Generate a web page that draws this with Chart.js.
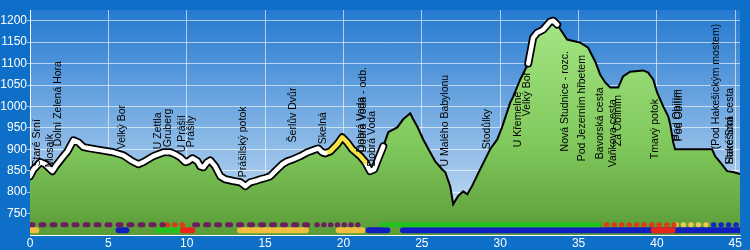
<!DOCTYPE html>
<html>
<head>
<meta charset="utf-8">
<script src="https://cdn.jsdelivr.net/npm/chart.js@4"></script>
<style>
  html, body { margin: 0; padding: 0; background: #0d6fc8; }
</style>
</head>
<body>
<canvas id="profile" width="750" height="250"></canvas>
<script>
// elevation profile: distance (km) and altitude (m)
const km = [0, 0.22, 0.66, 0.98, 1.43, 1.62, 2.07, 2.39, 2.77, 3.09, 3.41, 3.85, 4.49, 5.32, 5.96, 6.53, 6.91, 7.23, 7.87, 8.51,
  8.95, 9.27, 9.59, 9.91, 10.1, 10.36, 10.68, 10.87, 11.06, 11.31, 11.5, 11.82, 12.14, 12.46, 12.97, 13.42, 13.74, 14.05, 14.37, 14.69,
  15.01, 15.33, 15.65, 16.1, 16.42, 16.8, 17.25, 17.7, 18.07, 18.39, 18.65, 18.84, 19.16, 19.61, 19.92, 20.24, 20.56, 21.07, 21.39, 21.7,
  21.96, 22.21, 22.54, 22.86, 23.43, 23.81, 24.26, 24.45, 24.71, 25.09, 25.53, 25.85, 26.3, 26.49, 26.81, 27.0, 27.32, 27.64, 27.9, 28.2,
  28.72, 29.36, 29.81, 30.13, 30.64, 30.83, 31.28, 31.6, 31.79, 32.1, 32.36, 32.74, 33.19, 33.38, 33.64, 34.27, 35.1, 35.61, 36.06, 36.38,
  36.7, 37.02, 37.53, 37.84, 38.29, 39.12, 39.44, 39.76, 40.01, 40.4, 40.72, 40.85, 41.04, 41.16, 43.52, 43.71, 44.03, 44.48, 44.86, 45.3]
const altitude = [837, 853, 870, 865, 849, 860, 881, 895, 921, 916, 905, 902, 898, 893, 886, 872, 865, 870, 884, 893,
  893, 888, 881, 870, 872, 879, 872, 860, 858, 870, 874, 860, 837, 830, 826, 823, 814, 823, 826, 830,
  833, 837, 849, 865, 872, 877, 884, 893, 898, 902, 893, 891, 895, 912, 928, 916, 900, 884, 870, 849,
  853, 877, 907, 940, 951, 970, 984, 970, 953, 923, 893, 872, 853, 847, 814, 772, 791, 802, 795, 814,
  853, 900, 923, 953, 1009, 1023, 1063, 1086, 1100, 1160, 1172, 1179, 1198, 1200, 1191, 1156, 1149, 1137, 1105, 1074,
  1056, 1044, 1044, 1070, 1081, 1084, 1079, 1063, 1033, 1000, 977, 958, 916, 900, 900, 884, 870, 849, 847, 842]

// highlighted parts of the route
const hiFrom = [0, 18.84, 21.39, 31.79]
const hiTo = [18.84, 21.39, 22.54, 33.64]
const hiKind = ['white', 'yellow', 'white', 'white']

// waypoints: name, km, altitude where the label starts
const wpName = ['Staré Srní', 'Mosaik', 'Dolní Zelená Hora', 'Velký Bor', 'U Zettla', 'Gruberg', 'U Prášil', 'Prášily',
  'Prášilský potok', 'Šerlův Dvůr', 'Skelná', 'Dobrá Voda - odb.', 'Dobrá Voda', 'Dobrá Voda', 'U Malého Babylonu', 'Stodůlky',
  'U Křemelné', 'Velký Bor', 'Nová Studnice - rozc.', 'Pod Jezerním hřbetem', 'Bavorská cesta', 'Vaňkova cesta', 'Za Obilním',
  'Tmavý potok', 'Pod Obilím', 'Pod Obilím', '(Pod Hakešickým mostem)', 'Staré Srní', 'Hakešická cesta']
const wpKm = [0.47, 1.3, 1.81, 5.9, 8.2, 8.84, 9.72, 10.29,
  13.6, 16.8, 18.7, 21.26, 21.15, 21.84, 26.5, 29.17,
  31.15, 31.7, 34.15, 35.2, 36.4, 37.2, 37.5,
  39.9, 41.3, 41.4, 43.8, 44.65, 44.7]
const wpAlt = [860, 858, 907, 900, 900, 905, 893, 905,
  835, 916, 912, 893, 893, 860, 860, 900,
  905, 977, 895, 872, 877, 858, 907,
  877, 919, 919, 900, 865, 865]

// trail markings under the profile: row, from km, to km, kind
const trRow = [1, 1, 1, 1, 1, 1, 1, 1,
  2, 2, 2, 2, 2, 2, 2, 2, 2]
const trFrom = [0, 8.75, 10.5, 18.3, 22.5, 36.3, 41.2, 43.6,
  0, 5.65, 8.1, 9.75, 13.4, 19.7, 21.6, 23.8, 39.8]
const trTo = [8.5, 10.0, 18.0, 21.2, 36.3, 41.1, 43.4, 45.3,
  0.4, 6.15, 9.6, 10.35, 17.6, 21.2, 22.8, 45.3, 41.0]
const trKind = ['purple', 'redDots', 'purple', 'purpleDots', 'green', 'redDots', 'yellowDots', 'blueDots',
  'yellow', 'blue', 'green', 'red', 'yellow', 'yellow', 'blue', 'blue', 'red']

const yTicks = [750, 800, 850, 900, 950, 1000, 1050, 1100, 1150, 1200]
const xTicks = [0, 5, 10, 15, 20, 25, 30, 35, 40, 45]

const rowAlt = { 1: 724, 2: 711 }
const hiColors = { white: '#ffffff', yellow: '#f4e44a' }
const trStyle = {
  purple: { color: '#6c1f5e', width: 5, dash: [3, 8] },
  purpleDots: { color: '#6c1f5e', width: 5, dash: [0.5, 6.3] },
  redDots: { color: '#dc3c12', width: 5, dash: [0.5, 7] },
  yellowDots: { color: '#f0c84e', width: 5, dash: [0.5, 7] },
  blueDots: { color: '#1428c8', width: 5, dash: [0.5, 7] },
  green: { color: '#22c21e', width: 5, dash: [] },
  yellow: { color: '#f2be40', width: 6, dash: [] },
  blue: { color: '#0e1ec2', width: 6, dash: [] },
  red: { color: '#e8231a', width: 6, dash: [] },
}

const profilePts = km.map((k, i) => ({ x: k, y: altitude[i] }))
const slicePts = (a, b) => profilePts.filter(p => p.x >= a - 1e-9 && p.x <= b + 1e-9)

const datasets = []

datasets.push({
  data: profilePts,
  borderColor: '#000',
  borderWidth: 2,
  pointRadius: 0,
  fill: 'start',
  order: 30,
  backgroundColor: (c) => {
    const a = c.chart.chartArea
    if (!a) return '#7cc25a'
    const g = c.chart.ctx.createLinearGradient(0, a.top, 0, a.bottom)
    g.addColorStop(0, '#a6e886')
    g.addColorStop(0.6, '#80c85c')
    g.addColorStop(1, '#5a9c38')
    return g
  }
})

hiFrom.forEach((f, i) => {
  datasets.push({
    data: slicePts(f, hiTo[i]),
    borderColor: '#000',
    borderWidth: 8,
    borderCapStyle: 'round',
    borderJoinStyle: 'round',
    pointRadius: 0,
    fill: false,
    order: 20
  })
  datasets.push({
    data: slicePts(f, hiTo[i]),
    borderColor: hiColors[hiKind[i]],
    borderWidth: 4.5,
    borderCapStyle: 'round',
    borderJoinStyle: 'round',
    pointRadius: 0,
    fill: false,
    order: 10
  })
})

trKind.forEach((k, i) => {
  const st = trStyle[k]
  datasets.push({
    data: [{ x: trFrom[i], y: rowAlt[trRow[i]] }, { x: trTo[i], y: rowAlt[trRow[i]] }],
    borderColor: st.color,
    borderWidth: st.width,
    borderDash: st.dash,
    borderCapStyle: 'round',
    pointRadius: 0,
    fill: false,
    order: k === 'red' ? 4 : 5
  })
})

const backdrop = {
  id: 'backdrop',
  beforeDraw(chart) {
    const { ctx, chartArea: a, width, height } = chart
    ctx.save()
    ctx.fillStyle = '#0d6fc8'
    ctx.fillRect(0, 0, width, height)
    const g = ctx.createLinearGradient(0, a.top, 0, a.bottom)
    g.addColorStop(0, '#2479d0')
    g.addColorStop(1, '#d3e6f6')
    ctx.fillStyle = g
    ctx.fillRect(a.left, a.top, a.right - a.left, a.bottom - a.top)
    ctx.restore()
  }
}

const waypointLabels = {
  id: 'waypointLabels',
  afterDatasetsDraw(chart) {
    const { ctx, scales: { x, y } } = chart
    ctx.save()
    ctx.font = '10.5px "Liberation Sans", Arial, sans-serif'
    ctx.fillStyle = '#000'
    ctx.textAlign = 'left'
    ctx.textBaseline = 'middle'
    wpName.forEach((name, i) => {
      ctx.save()
      ctx.translate(x.getPixelForValue(wpKm[i]), y.getPixelForValue(wpAlt[i]))
      ctx.rotate(-Math.PI / 2)
      ctx.fillText(name, 0, 0)
      ctx.restore()
    })
    ctx.restore()
  }
}

const tickFont = { family: '"Liberation Sans", Arial, sans-serif', size: 12 }

new Chart(document.getElementById('profile'), {
  type: 'line',
  data: { datasets },
  plugins: [backdrop, waypointLabels],
  options: {
    responsive: false,
    animation: false,
    layout: { padding: { top: 10, right: 10, left: 0, bottom: 0 } },
    plugins: { legend: { display: false }, tooltip: { enabled: false } },
    scales: {
      x: {
        type: 'linear',
        min: 0,
        max: 45.3,
        afterBuildTicks: s => { s.ticks = xTicks.map(v => ({ value: v })) },
        afterFit: s => { s.height = 15 },
        ticks: { color: '#fff', font: tickFont, padding: 1, maxRotation: 0, autoSkip: false, callback: v => String(v) },
        grid: { color: 'rgba(255,255,255,0.6)', lineWidth: 1, drawTicks: false },
        border: { color: '#fff', width: 1 }
      },
      y: {
        type: 'linear',
        min: 700,
        max: 1225,
        afterBuildTicks: s => { s.ticks = yTicks.map(v => ({ value: v })) },
        afterFit: s => { s.width = 30 },
        ticks: { color: '#fff', font: tickFont, padding: 0, autoSkip: false, callback: v => String(v) },
        grid: { color: 'rgba(255,255,255,0.6)', lineWidth: 1, tickLength: 3 },
        border: { color: '#fff', width: 1 }
      }
    }
  }
})
</script>
</body>
</html>
